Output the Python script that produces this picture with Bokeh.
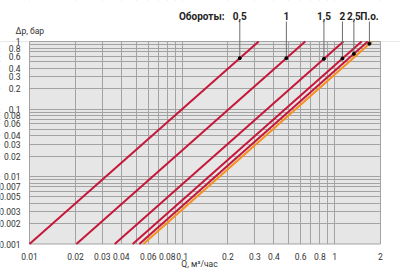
import math
from bokeh.plotting import figure
from bokeh.models import (FixedTicker, NumeralTickFormatter, Label, ColumnDataSource, Range1d)
from bokeh.embed import file_html
from bokeh.resources import INLINE

# ---- data ----
speeds = ["0,5", "1", "1,5", "2", "2,5", "П.о."]
dp_ends = [0.001, 1.0]                     # bar
q_at_dp_min = [0.0100, 0.0203, 0.0362, 0.0475, 0.0525, 0.0558]   # m3/h at 0.001 bar
q_at_dp_max = [0.318, 0.642, 1.144, 1.505, 1.65, 1.76]           # m3/h at 1 bar
dot_dp = [0.566, 0.566, 0.554, 0.56, 0.657, 0.924]              # marker on each line

x_major = [0.01, 0.02, 0.03, 0.04, 0.06, 0.08, 0.1, 0.2, 0.3, 0.4, 0.6, 0.8, 1, 2]
x_minor = [0.05, 0.07, 0.09, 0.5, 0.7, 0.9]
y_major = [0.001, 0.002, 0.003, 0.005, 0.007, 0.01, 0.02, 0.03, 0.04, 0.06, 0.08,
           0.1, 0.2, 0.3, 0.4, 0.6, 0.8, 1]
y_minor = [0.004, 0.006, 0.008, 0.009, 0.05, 0.07, 0.09, 0.5, 0.7, 0.9]

RED = "#c5173a"
ORANGE = "#f5901e"
GRID = "#a3a3a3"
FONT = "Roboto"
TXT = "#333333"

W, H = 400, 272
# plot-area placement on the canvas (pixels)
PL, PR, PT, PB = 29, 380, 41, 243.5
QMIN, QMAX = x_major[0], x_major[-1]
DMIN, DMAX = y_major[0], y_major[-1]
DX = (PR - PL) / math.log10(QMAX / QMIN)
DY = (PB - PT) / math.log10(DMAX / DMIN)

def qx(px):   # canvas x pixel -> Q
    return QMIN * 10 ** ((px - PL) / DX)

def dy(py):   # canvas y pixel -> dp
    return DMAX * 10 ** ((PT - py) / DY)

p = figure(width=W, height=H, x_axis_type="log", y_axis_type="log",
           x_range=Range1d(qx(0), qx(W)), y_range=Range1d(dy(H), dy(0)),
           output_backend="svg", toolbar_location=None,
           min_border=0, min_border_left=0, min_border_right=0,
           min_border_top=0, min_border_bottom=0)
p.background_fill_color = "white"
p.border_fill_color = "white"
p.outline_line_color = None

p.xaxis.ticker = FixedTicker(ticks=x_major, minor_ticks=x_minor)
p.yaxis.ticker = FixedTicker(ticks=y_major, minor_ticks=y_minor)
p.xaxis.fixed_location = DMIN
p.yaxis.fixed_location = QMIN
for ax in (p.xaxis, p.yaxis):
    ax.formatter = NumeralTickFormatter(format="0.[000]", language="ru")
    ax.axis_line_color = None
    ax.major_tick_line_color = None
    ax.minor_tick_line_color = None
    ax.major_label_text_font = FONT
    ax.major_label_text_font_size = "8.5px"
    ax.major_label_text_color = TXT
p.xaxis.major_label_standoff = 3
p.yaxis.major_label_standoff = 3

for g in (p.xgrid, p.ygrid):
    g.grid_line_color = GRID
    g.grid_line_width = 1
    g.minor_grid_line_color = GRID
    g.minor_grid_line_width = 1

# grey plot area under the grid
p.quad(left=QMIN, right=QMAX, bottom=DMIN, top=DMAX, fill_color="#e6e6e6",
       line_color=None, level="image")
# white margins hide the grid outside the plot area
x0, x1 = p.x_range.start, p.x_range.end
y0, y1 = p.y_range.start, p.y_range.end
p.quad(left=[x0, x0, x0, QMAX], right=[x1, x1, QMIN, x1],
       bottom=[DMAX, y0, DMIN, DMIN], top=[y1, DMIN, DMAX, DMAX],
       fill_color="white", line_color=None)
p.quad(left=QMIN, right=QMAX, bottom=DMIN, top=DMAX, fill_color=None,
       line_color=GRID, line_width=1)

# ---- characteristic lines ----
order = [5, 0, 1, 2, 3, 4]
for i in order:
    col = ORANGE if speeds[i] == "П.о." else RED
    src = ColumnDataSource(dict(q=[q_at_dp_min[i], q_at_dp_max[i]], dp=dp_ends))
    p.line("q", "dp", source=src, line_color=col, line_width=2)

# markers on the lines (position along each line in log space)
lo, hi = math.log10(dp_ends[0]), math.log10(dp_ends[1])
dot_q = []
for i in range(len(speeds)):
    t = (math.log10(dot_dp[i]) - lo) / (hi - lo)
    lq = math.log10(q_at_dp_min[i]) + t * (math.log10(q_at_dp_max[i]) - math.log10(q_at_dp_min[i]))
    dot_q.append(10 ** lq)

label_dp = dy(15.5)
leader_top_dp = dy(21)
p.segment(x0=dot_q, y0=[leader_top_dp] * len(dot_q), x1=dot_q, y1=dot_dp,
          line_color="#6e6e6e", line_width=1)
p.scatter(dot_q, dot_dp, size=3, color="black")

for q, name in zip(dot_q, speeds):
    p.add_layout(Label(x=q, y=label_dp, text=name, text_align="center",
                       text_baseline="middle", text_font=FONT,
                       text_font_size="10px", text_font_style="bold",
                       text_color="#222222"))

p.add_layout(Label(x=qx(224), y=label_dp, text="Обороты:", text_align="right",
                   text_baseline="middle", text_font=FONT, text_font_size="10px",
                   text_font_style="bold", text_color="#222222"))
p.add_layout(Label(x=qx(15), y=dy(30.5), text="Δp, бар", text_align="left",
                   text_baseline="middle", text_font=FONT, text_font_size="8.5px",
                   text_color=TXT))
p.add_layout(Label(x=qx(199), y=dy(263), text="Q, м³/час", text_align="center",
                   text_baseline="middle", text_font=FONT, text_font_size="8.5px",
                   text_color=TXT))

open("out.html", "w").write(file_html(p, INLINE))
